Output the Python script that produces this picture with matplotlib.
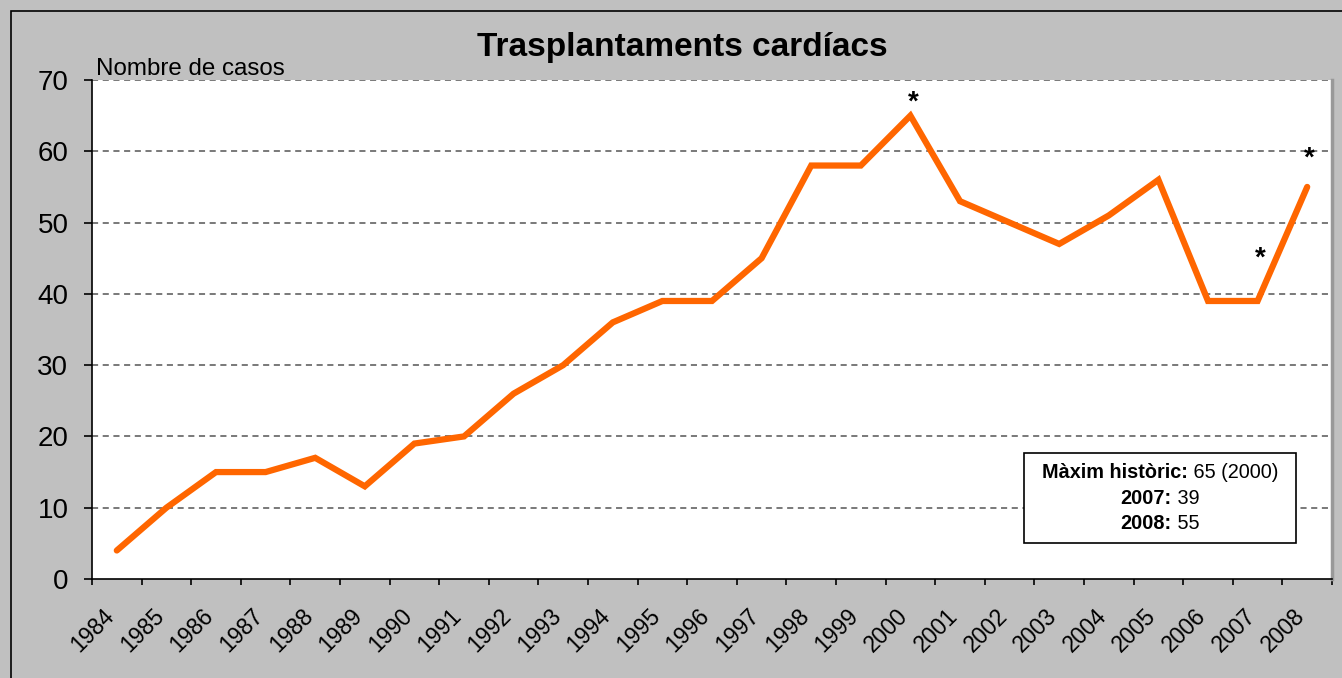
import matplotlib
matplotlib.use("Agg")
import matplotlib.pyplot as plt
from matplotlib.patches import Rectangle
from matplotlib.transforms import ScaledTranslation
from matplotlib.offsetbox import TextArea, HPacker, VPacker, AnchoredOffsetbox

plt.rcParams["font.family"] = ["Liberation Sans", "DejaVu Sans"]

# data
years = [str(y) for y in range(1984, 2009)]
casos = [4, 10, 15, 15, 17, 13, 19, 20, 26, 30, 36, 39, 39, 45, 58, 58,
         65, 53, 50, 47, 51, 56, 39, 39, 55]
yticks = [0, 10, 20, 30, 40, 50, 60, 70]
title = "Trasplantaments cardíacs"
ylabel = "Nombre de casos"
info_lines = [("Màxim històric:", " 65 (2000)"), ("2007:", " 39"), ("2008:", " 55")]
# asterisks: (category index, y value)
stars = [(16, 66.8), (23, 45.0), (24, 59.0)]

fig = plt.figure(figsize=(13.42, 6.78), dpi=100)
fig.patch.set_facecolor("#C0C0C0")
# outer black frame
fig.patches.append(Rectangle((11 / 1342, -0.1), 1.2, 1 - 11 / 678 + 0.1,
                             transform=fig.transFigure, fill=False,
                             edgecolor="black", linewidth=1.2))

ax = fig.add_axes([92 / 1342, 1 - 579 / 678, 1240 / 1342, 499 / 678])
ax.set_facecolor("white")

x = list(range(len(years)))
ax.plot(x, casos, color="#FF6600", linewidth=4.5, solid_joinstyle="miter",
        solid_capstyle="round", zorder=3)

ax.set_xlim(-0.5, len(years) - 0.5)
ax.set_ylim(0, 70)

ax.set_yticks(yticks)
ax.set_yticklabels([str(v) for v in yticks], fontsize=20)
for v in yticks[1:]:
    ax.axhline(v, color="#555555", linestyle=(0, (4, 3)), linewidth=1.1, zorder=1)

ax.set_xticks(x)
ax.set_xticklabels(years, rotation=45, ha="right", rotation_mode="anchor", fontsize=16.5)
ax.tick_params(axis="x", which="major", length=0, pad=18)
shift = ScaledTranslation(-14 / 100, 0, fig.dpi_scale_trans)
for lab in ax.get_xticklabels():
    lab.set_transform(lab.get_transform() + shift)
ax.set_xticks([i - 0.5 for i in range(len(years) + 1)], minor=True)
ax.tick_params(axis="x", which="minor", length=4, width=1.2, direction="out")
ax.tick_params(axis="y", length=6, width=1.2, direction="out", pad=11)

for s in ["left", "bottom"]:
    ax.spines[s].set_linewidth(1.2)
ax.spines["top"].set_visible(False)
ax.spines["right"].set_color("#999999")
ax.spines["right"].set_linewidth(2.5)

for i, v in stars:
    ax.text(i + 0.05, v, "*", ha="center", va="center", fontsize=20,
            fontweight="bold", zorder=4)

fig.text(682 / 1342, 1 - 56 / 678, title, ha="center", va="baseline",
         fontsize=24, fontweight="bold")
fig.text(96 / 1342, 1 - 75 / 678, ylabel, ha="left", va="baseline", fontsize=17.4)

# info box
ax.add_patch(Rectangle(((1024 - 92) / 1240, (579 - 543) / 499), 272 / 1240, 90 / 499,
                       transform=ax.transAxes, facecolor="white", edgecolor="black",
                       linewidth=1.2, zorder=5))
rows = []
for b, n in info_lines:
    rows.append(HPacker(children=[
        TextArea(b, textprops=dict(fontsize=14.3, fontweight="bold")),
        TextArea(n, textprops=dict(fontsize=14.3))], pad=0, sep=0, align="baseline"))
box = VPacker(children=rows, align="center", pad=0, sep=5)
ab = AnchoredOffsetbox(loc="center", child=box, frameon=False,
                       bbox_to_anchor=((1160 - 92) / 1240, (579 - 498) / 499),
                       bbox_transform=ax.transAxes, borderpad=0, pad=0)
ab.set_zorder(6)
ax.add_artist(ab)

fig.savefig("out.png", dpi=100, facecolor=fig.get_facecolor())
